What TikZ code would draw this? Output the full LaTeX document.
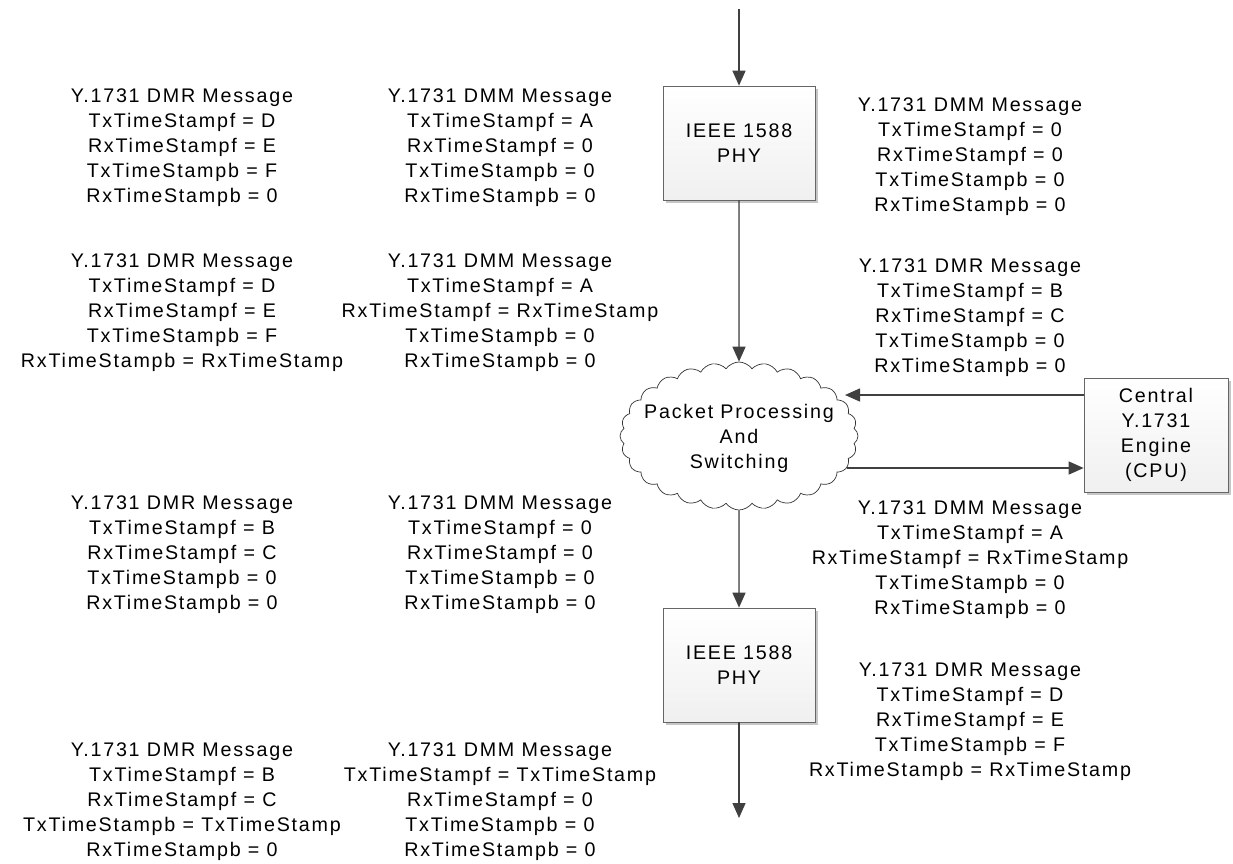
\documentclass[tikz,border=0pt]{standalone}
\usepackage{fontspec}
\setmainfont{Liberation Sans}[LetterSpace=9]
\usepackage{tikz}
\usetikzlibrary{arrows.meta, positioning, calc, shapes.symbols, shadows}

\newcommand{\msgfont}{\fontsize{11.2pt}{14.2pt}\selectfont}

\begin{document}
\begin{tikzpicture}[
    >={Triangle[length=3mm,width=2.6mm]},
    arrow/.style={->,line width=0.8pt,draw=black!75,fill=black!75},
    phy/.style={rectangle,draw=black!60,top color=white,bottom color=gray!12,
                minimum width=30.4mm,minimum height=22.8mm,align=center,
                font=\msgfont,
                drop shadow={shadow xshift=1.8pt,shadow yshift=-1.8pt,fill=gray!45,opacity=1}},
    engine/.style={phy,minimum width=28.8mm},
    switch/.style={cloud,cloud puffs=28,cloud puff arc=110,draw=black!80,thin,
                   minimum width=47.6mm,minimum height=29.6mm,inner sep=0pt},
    message/.style={align=center,inner sep=0pt,font=\msgfont}
]
\useasboundingbox (0,0) rectangle (24.66,-17.26);

%--------------------------------------------------------------------
% Central path: PHY, packet processing, PHY
%--------------------------------------------------------------------
\coordinate (in)  at (14.78,-0.18);
\coordinate (out) at (14.78,-16.36);

\node[phy] (phytop) at (14.78,-2.86) {IEEE 1588\\PHY};
\node[switch] (switch) at (14.78,-8.72) {};
\node[message] (switchtext) at (14.78,-8.76) {Packet Processing\\And\\Switching};
\node[phy] (phybot) at (14.78,-13.30) {IEEE 1588\\PHY};

\draw[arrow] (in) -- (phytop.north);
\draw[arrow] (phytop.south) -- (switch.north);
\draw[arrow] (switch.south) -- (phybot.north);
\draw[arrow] (phybot.south) -- (out);

%--------------------------------------------------------------------
% Y.1731 engine
%--------------------------------------------------------------------
\node[engine] (cpu) at (23.12,-8.70) {Central\\Y.1731\\Engine\\(CPU)};

\coordinate (tocloud)   at (16.90,-7.90);
\coordinate (fromcloud) at (16.94,-9.36);

\draw[arrow] (tocloud -| cpu.west) -- (tocloud);
\draw[arrow] (fromcloud) -- (fromcloud -| cpu.west);

%--------------------------------------------------------------------
% Messages on the left
%--------------------------------------------------------------------
\node[message] (dmr1) at (3.64,-2.96) {Y.1731 DMR Message\\TxTimeStampf = D\\RxTimeStampf = E\\TxTimeStampb = F\\RxTimeStampb = 0};
\node[message] (dmm1) at (10.0,-2.96) {Y.1731 DMM Message\\TxTimeStampf = A\\RxTimeStampf = 0\\TxTimeStampb = 0\\RxTimeStampb = 0};

\node[message] (dmr2) at (3.64,-6.26) {Y.1731 DMR Message\\TxTimeStampf = D\\RxTimeStampf = E\\TxTimeStampb = F\\RxTimeStampb = RxTimeStamp};
\node[message] (dmm2) at (10.0,-6.26) {Y.1731 DMM Message\\TxTimeStampf = A\\RxTimeStampf = RxTimeStamp\\TxTimeStampb = 0\\RxTimeStampb = 0};

\node[message] (dmr3) at (3.64,-11.10) {Y.1731 DMR Message\\TxTimeStampf = B\\RxTimeStampf = C\\TxTimeStampb = 0\\RxTimeStampb = 0};
\node[message] (dmm3) at (10.0,-11.10) {Y.1731 DMM Message\\TxTimeStampf = 0\\RxTimeStampf = 0\\TxTimeStampb = 0\\RxTimeStampb = 0};

\node[message] (dmr4) at (3.64,-16.04) {Y.1731 DMR Message\\TxTimeStampf = B\\RxTimeStampf = C\\TxTimeStampb = TxTimeStamp\\RxTimeStampb = 0};
\node[message] (dmm4) at (10.0,-16.04) {Y.1731 DMM Message\\TxTimeStampf = TxTimeStamp\\RxTimeStampf = 0\\TxTimeStampb = 0\\RxTimeStampb = 0};

%--------------------------------------------------------------------
% Messages on the right
%--------------------------------------------------------------------
\node[message] (dmm5) at (19.4,-3.14) {Y.1731 DMM Message\\TxTimeStampf = 0\\RxTimeStampf = 0\\TxTimeStampb = 0\\RxTimeStampb = 0};
\node[message] (dmr5) at (19.4,-6.36) {Y.1731 DMR Message\\TxTimeStampf = B\\RxTimeStampf = C\\TxTimeStampb = 0\\RxTimeStampb = 0};
\node[message] (dmm6) at (19.4,-11.20) {Y.1731 DMM Message\\TxTimeStampf = A\\RxTimeStampf = RxTimeStamp\\TxTimeStampb = 0\\RxTimeStampb = 0};
\node[message] (dmr6) at (19.4,-14.44) {Y.1731 DMR Message\\TxTimeStampf = D\\RxTimeStampf = E\\TxTimeStampb = F\\RxTimeStampb = RxTimeStamp};

\end{tikzpicture}
\end{document}
